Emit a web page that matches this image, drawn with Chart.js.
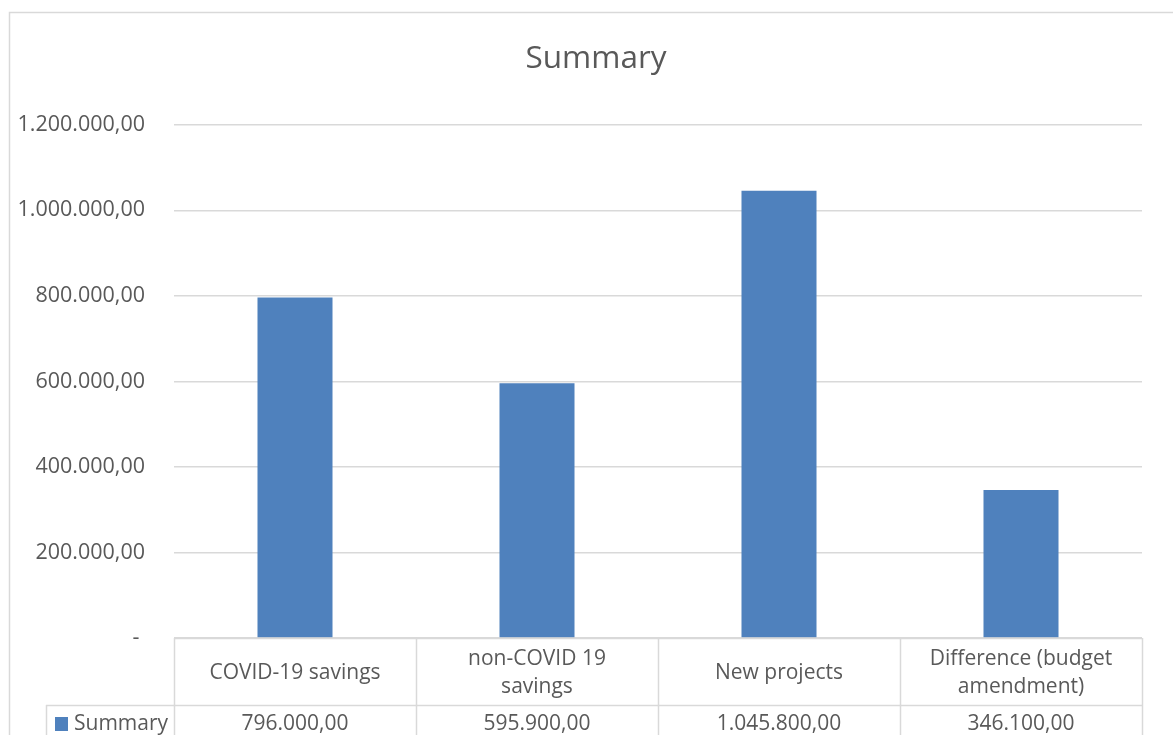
<!DOCTYPE html>
<html>
<head>
<meta charset="utf-8">
<script src="https://cdn.jsdelivr.net/npm/chart.js@4"></script>
<style>
html,body{margin:0;padding:0;background:#fff;}
canvas{display:block;}
</style>
</head>
<body>
<canvas id="c" width="1173" height="735"></canvas>
<script>
const chartTitle = 'Summary';
const seriesName = 'Summary';
const categories = ['COVID-19 savings', ['non-COVID 19', 'savings'], 'New projects', ['Difference (budget', 'amendment)']];
const values = [796000, 595900, 1045800, 346100];
const yTicks = [0, 200000, 400000, 600000, 800000, 1000000, 1200000];

const FONT = "'Open Sans', sans-serif";
const TEXT = '#595959';
const LINE = '#d9d9d9';
const BAR = '#4f81bd';

function fmt(v) {
  const parts = v.toFixed(2).split('.');
  const intPart = parts[0].replace(/\B(?=(\d{3})+(?!\d))/g, '.');
  return intPart + ',' + parts[1];
}

const tablePlugin = {
  id: 'tablePlugin',
  afterLayout(chart) {
    // the frame of the original chart extends past the right edge; centre the title on it
    const t = chart.titleBlock;
    if (t) { t.left = 0; t.right = 1192; t.width = 1192; }
  },
  beforeDraw(chart) {
    const ctx = chart.ctx;
    ctx.save();
    ctx.strokeStyle = LINE;
    ctx.lineWidth = 1.5;
    ctx.beginPath();
    ctx.moveTo(9.5, chart.height + 5);
    ctx.lineTo(9.5, 12.5);
    ctx.lineTo(chart.width + 5, 12.5);
    ctx.stroke();
    ctx.restore();
  },
  afterDraw(chart) {
    const ctx = chart.ctx;
    const xs = chart.scales.x;
    const area = chart.chartArea;
    const n = categories.length;
    const step = xs.getPixelForValue(1) - xs.getPixelForValue(0);
    const top = area.bottom;
    const rowY = top + 67;
    const bottom = chart.height + 5;
    const legendLeft = 46;
    ctx.save();
    ctx.strokeStyle = LINE;
    ctx.lineWidth = 1.5;
    ctx.beginPath();
    ctx.moveTo(area.left, top + 0.5);
    ctx.lineTo(area.right, top + 0.5);
    ctx.moveTo(legendLeft, rowY + 0.5);
    ctx.lineTo(area.right, rowY + 0.5);
    ctx.moveTo(legendLeft + 0.5, rowY);
    ctx.lineTo(legendLeft + 0.5, bottom);
    for (let i = 0; i <= n; i++) {
      const x = Math.round(xs.getPixelForValue(i) - step / 2) + 0.5;
      ctx.moveTo(x, top);
      ctx.lineTo(x, bottom);
    }
    ctx.stroke();

    ctx.fillStyle = TEXT;
    ctx.font = '21px ' + FONT;
    ctx.textAlign = 'center';
    ctx.textBaseline = 'middle';
    const lh = 28;
    for (let i = 0; i < n; i++) {
      const cx = xs.getPixelForValue(i);
      const lines = Array.isArray(categories[i]) ? categories[i] : [categories[i]];
      const cy = (top + rowY) / 2 + 1.5;
      lines.forEach((l, k) => {
        ctx.fillText(l, cx, cy + (k - (lines.length - 1) / 2) * lh);
      });
      ctx.fillText(fmt(values[i]), cx, rowY + 19);
    }
    ctx.fillStyle = BAR;
    ctx.fillRect(55, 717, 13, 14);
    ctx.fillStyle = TEXT;
    ctx.textAlign = 'left';
    ctx.fillText(seriesName, 74, rowY + 19);
    ctx.restore();
  }
};

new Chart(document.getElementById('c'), {
  type: 'bar',
  data: {
    labels: categories,
    datasets: [{
      label: seriesName,
      data: values,
      backgroundColor: BAR,
      borderWidth: 0,
      barPercentage: 0.31,
      categoryPercentage: 1.0
    }]
  },
  options: {
    responsive: false,
    animation: false,
    devicePixelRatio: 1,
    layout: { padding: { left: 0, right: 31, top: 0, bottom: 0 } },
    plugins: {
      legend: { display: false },
      tooltip: { enabled: false },
      title: {
        display: true,
        text: chartTitle,
        color: TEXT,
        font: { family: FONT, size: 31.5, weight: 'normal', lineHeight: 1.2 },
        padding: { top: 40, bottom: 47 }
      }
    },
    scales: {
      x: {
        display: true,
        grid: { display: false, drawTicks: false },
        border: { display: false },
        ticks: { display: false },
        afterFit(scale) { scale.height = 97; }
      },
      y: {
        min: 0,
        max: 1200000,
        afterBuildTicks(scale) { scale.ticks = yTicks.map(v => ({ value: v })); },
        grid: { color: LINE, lineWidth: 1.5, drawTicks: false },
        border: { display: false },
        ticks: {
          color: TEXT,
          font: { family: FONT, size: 21.5 },
          padding: 29,
          callback: (v) => v === 0 ? '- ' : fmt(v)
        },
        afterFit(scale) { scale.width = 174; }
      }
    }
  },
  plugins: [tablePlugin]
});
</script>
</body>
</html>
